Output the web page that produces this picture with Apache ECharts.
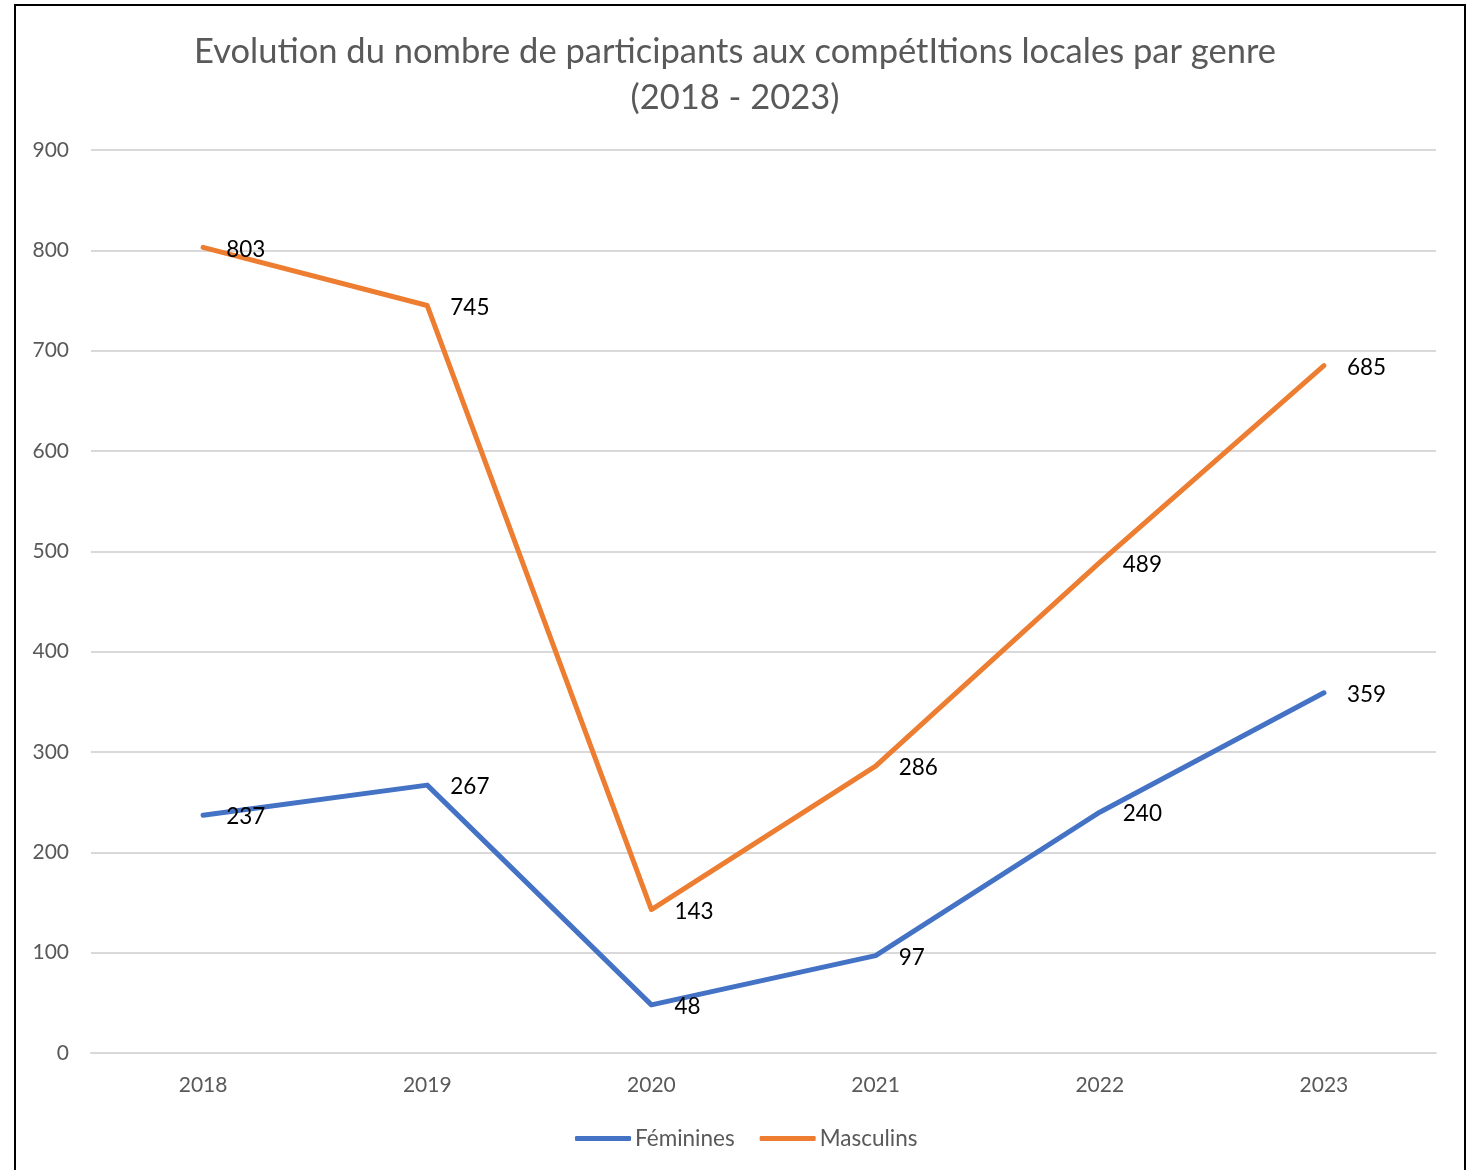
<!DOCTYPE html>
<html><head><meta charset="utf-8">
<script src="https://cdn.jsdelivr.net/npm/echarts@6/dist/echarts.min.js"></script>
<style>html,body{margin:0;padding:0;background:#fff}#c{width:1470px;height:1170px}</style>
</head><body><div id="c"></div>
<script>
const years = ['2018','2019','2020','2021','2022','2023'];
const feminines = [237, 267, 48, 97, 240, 359];
const masculins = [803, 745, 143, 286, 489, 685];
const titleText = 'Evolution du nombre de participants aux compétItions locales par genre\n(2018 - 2023)';
const FONT = 'Lato, "Open Sans", sans-serif';
const chart = echarts.init(document.getElementById('c'));
const lbl = {show:true, position:'right', distance:23, color:'#000', fontSize:22.5, fontFamily:FONT, offset:[0,2]};
chart.setOption({
  animation:false,
  textStyle:{fontFamily:FONT},
  graphic:[{type:'rect', shape:{x:15,y:5,width:1450,height:1200}, style:{fill:'none', stroke:'#000', lineWidth:2}, silent:true}],
  title:{text:titleText, left:'center', top:24, textStyle:{fontSize:34.5, fontWeight:'normal', color:'#595959', lineHeight:46, fontFamily:FONT}},
  grid:{left:91, right:34, top:150, bottom:117, containLabel:false},
  xAxis:{type:'category', data:years, boundaryGap:true,
    axisLine:{lineStyle:{color:'#d9d9d9', width:2}}, axisTick:{show:false},
    axisLabel:{color:'#595959', fontSize:21, margin:22, fontFamily:FONT}},
  yAxis:{type:'value', min:0, max:900, interval:100,
    axisLine:{show:false}, axisTick:{show:false},
    splitLine:{lineStyle:{color:'#d9d9d9', width:2}},
    axisLabel:{color:'#595959', fontSize:21, margin:22, fontFamily:FONT}},
  legend:{bottom:15, left:570, itemWidth:56, itemHeight:5, itemGap:25, icon:'roundRect',
    textStyle:{color:'#595959', fontSize:22.5, fontFamily:FONT, padding:[0,0,0,-1]}},
  series:[
    {name:'Féminines', type:'line', data:feminines, symbol:'circle', symbolSize:0.1, showSymbol:true,
      itemStyle:{color:'#4472C4'}, lineStyle:{color:'#4472C4', width:5, cap:'round', join:'round'}, label:lbl},
    {name:'Masculins', type:'line', data:masculins, symbol:'circle', symbolSize:0.1, showSymbol:true,
      itemStyle:{color:'#ED7D31'}, lineStyle:{color:'#ED7D31', width:5, cap:'round', join:'round'}, label:lbl}
  ]
});
</script></body></html>
